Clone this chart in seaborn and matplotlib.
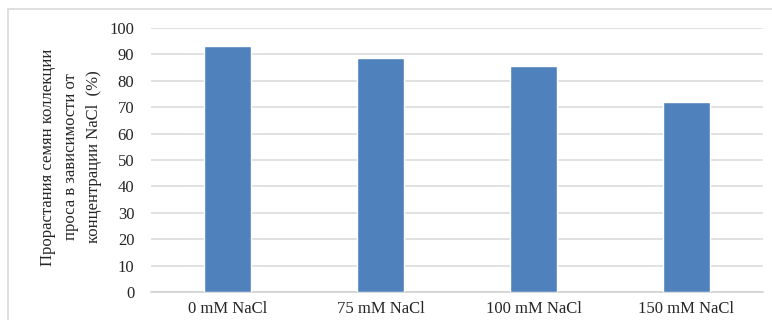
import matplotlib
matplotlib.use("Agg")
import matplotlib.pyplot as plt
from matplotlib.patches import Rectangle
import seaborn as sns
import pandas as pd

categories = ["0 mM NaCl", "75 mM NaCl", "100 mM NaCl", "150 mM NaCl"]
germination = [93.2, 88.6, 85.6, 72.0]
y_ticks = [0, 10, 20, 30, 40, 50, 60, 70, 80, 90, 100]
y_label = "Прорастания семян коллекции\nпроса в зависимости от\nконцентрации NaCl  (%)"

sns.set_theme(style="white")
plt.rcParams["font.family"] = ["Liberation Serif", "DejaVu Serif"]

df = pd.DataFrame({"category": categories, "value": germination})

W, H = 772, 320
fig = plt.figure(figsize=(W / 100, H / 100), dpi=100)
fig.patch.set_facecolor("white")

# outer chart frame
fig.patches.append(Rectangle((8 / W, -0.1), 1.1, (H - 9) / H + 0.1,
                             transform=fig.transFigure, fill=False,
                             edgecolor="#d9d9d9", linewidth=1.2))

ax = fig.add_axes([151 / W, (H - 292) / H, (763 - 151) / W, (292 - 28) / H])
sns.barplot(data=df, x="category", y="value", color="#4F81BD",
            saturation=1, width=0.31, ax=ax, zorder=3)

ax.set_ylim(0, 100)
ax.set_yticks(y_ticks)
ax.set_xlim(-0.5, 3.5)
ax.yaxis.grid(True, color="#d9d9d9", linewidth=1.1, zorder=0)
ax.set_axisbelow(True)
for side in ["top", "right", "left"]:
    ax.spines[side].set_visible(False)
ax.spines["bottom"].set_color("#d0d0d0")
ax.spines["bottom"].set_linewidth(1.1)
ax.tick_params(axis="both", length=0, labelsize=12, colors="#262626")
ax.tick_params(axis="y", pad=12)
ax.tick_params(axis="x", pad=6.5)
ax.set_xlabel("")
ax.set_ylabel("")

fig.text(71 / W, (H - 157) / H, y_label, rotation=90, ha="center",
         va="center", fontsize=12, color="#262626", linespacing=1.55,
         multialignment="center")

fig.savefig("out.png", dpi=100, facecolor="white")
